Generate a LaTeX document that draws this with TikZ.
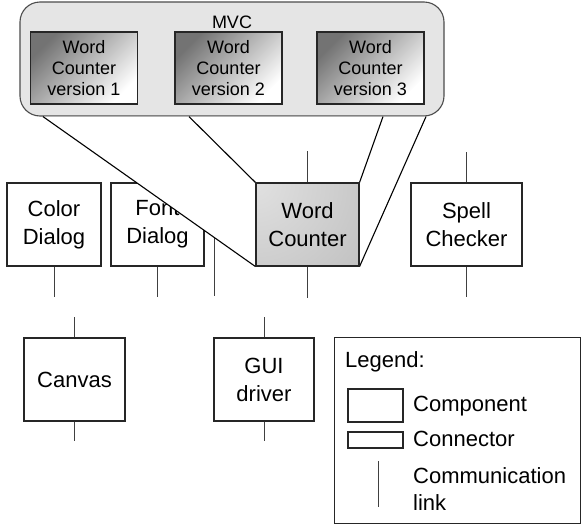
\documentclass[tikz,border=0pt]{standalone}
\usepackage{fontspec}
\setmainfont{Liberation Sans}
\usepackage{tikz}
\usetikzlibrary{positioning, calc}

\begin{document}
\begin{tikzpicture}[
    x=1pt, y=-1pt,
    component/.style={rectangle, draw=black!85, line width=1.1pt, fill=white, inner sep=0pt, minimum height=83pt, align=center, font=\fontsize{22}{28}\selectfont},
    version/.style={rectangle, draw=black!85, line width=1.1pt, left color=black!55, right color=white, shading angle=45, inner sep=0pt, minimum width=107pt, minimum height=72pt, align=center, font=\fontsize{18}{21.3}\selectfont},
    link/.style={draw=black!75, line width=0.7pt},
    zoomline/.style={draw=black, line width=1.1pt},
    legendtext/.style={anchor=west, inner sep=0pt, align=left, font=\fontsize{22}{26.5}\selectfont},
]
\useasboundingbox (0,0) rectangle (582,525);

% MVC group with the three versions
\node[draw=black!70, line width=1.1pt, rounded corners=20pt, fill=black!10, inner sep=0pt, minimum width=424pt, minimum height=114pt] (mvc) at (232,59) {};
\node[font=\fontsize{18}{21.3}\selectfont, inner sep=0pt] (mvctitle) at (232,22) {MVC};
\node[version] (wc1) at (84,68) {Word\\Counter\\version 1};
\node[version] (wc2) at (228.5,68) {Word\\Counter\\version 2};
\node[version] (wc3) at (370.5,68) {Word\\Counter\\version 3};

% Top row components
\node[component, minimum width=94pt] (cd) at (54,224.5) {Color\\Dialog};
\node[component, minimum width=93pt] (fd) at (157.5,224.5) {Font\\Dialog};
\node[component, minimum width=111pt] (sc) at (466.5,224.5) {Spell\\Checker};

\foreach \n in {cd, fd, sc}
    \draw[link] (\n.south) -- ++(0,30);
\draw[link] (sc.north) -- ++(0,-30);

\coordinate (midtop) at (214,152);
\coordinate (midbot) at (214,296);
\draw[link] (midtop) -- (midbot);

% Zoom cone from MVC down to the word counter
\coordinate (mvc1) at (43,116.6);
\coordinate (mvc2) at (189,116.6);
\coordinate (mvc3) at (383,116.6);
\coordinate (mvc4) at (426,116.6);
\node[component, minimum width=103pt, fill=black!30,
    path picture={\shade[inner color=black!12, outer color=black!30] (path picture bounding box.north west) circle (200pt);}] (wc) at (307.5,224.5) {Word\\Counter};
\fill[white] (mvc1) -- (wc.south west) -- (wc.south east) -- (mvc4) -- cycle;
\draw[zoomline] (mvc1) -- (wc.south west);
\draw[zoomline] (mvc2) -- (wc.north west);
\draw[zoomline] (mvc3) -- (wc.north east);
\draw[zoomline] (mvc4) -- (wc.south east);
\node[component, minimum width=103pt, fill=black!30,
    path picture={\shade[inner color=black!12, outer color=black!30] (path picture bounding box.north west) circle (200pt);}] at (wc) {Word\\Counter};
\draw[link] (wc.north) -- ++(0,-31);
\draw[link] (wc.south) -- ++(0,31);

% Bottom row components
\node[component, minimum width=101pt] (cv) at (74.5,379.5) {Canvas};
\node[component, minimum width=100pt] (gui) at (264,379.5) {GUI\\driver};
\foreach \n in {cv, gui} {
    \draw[link] (\n.north) -- ++(0,-20);
    \draw[link] (\n.south) -- ++(0,19);
}

% Legend
\node[draw=black!85, line width=0.9pt, inner sep=0pt, minimum width=246pt, minimum height=186pt] (legend) at (457,430) {};
\node[legendtext] (legtitle) at (345,362) {Legend:};
\node[rectangle, draw=black!85, line width=1.1pt, inner sep=0pt, minimum width=55pt, minimum height=33pt] (legcomp) at (375.5,405.5) {};
\node[legendtext] (legcomptext) at (413,406) {Component};
\node[rectangle, draw=black!85, line width=1.1pt, inner sep=0pt, minimum width=55pt, minimum height=16pt] (legconn) at (375.5,440) {};
\node[legendtext] (legconntext) at (413,439) {Connector};
\coordinate (leglinktop) at (378,461);
\coordinate (leglinkbot) at (378,507);
\draw[link] (leglinktop) -- (leglinkbot);
\node[legendtext] (leglinktext) at (413,489) {Communication\\link};

\end{tikzpicture}
\end{document}
